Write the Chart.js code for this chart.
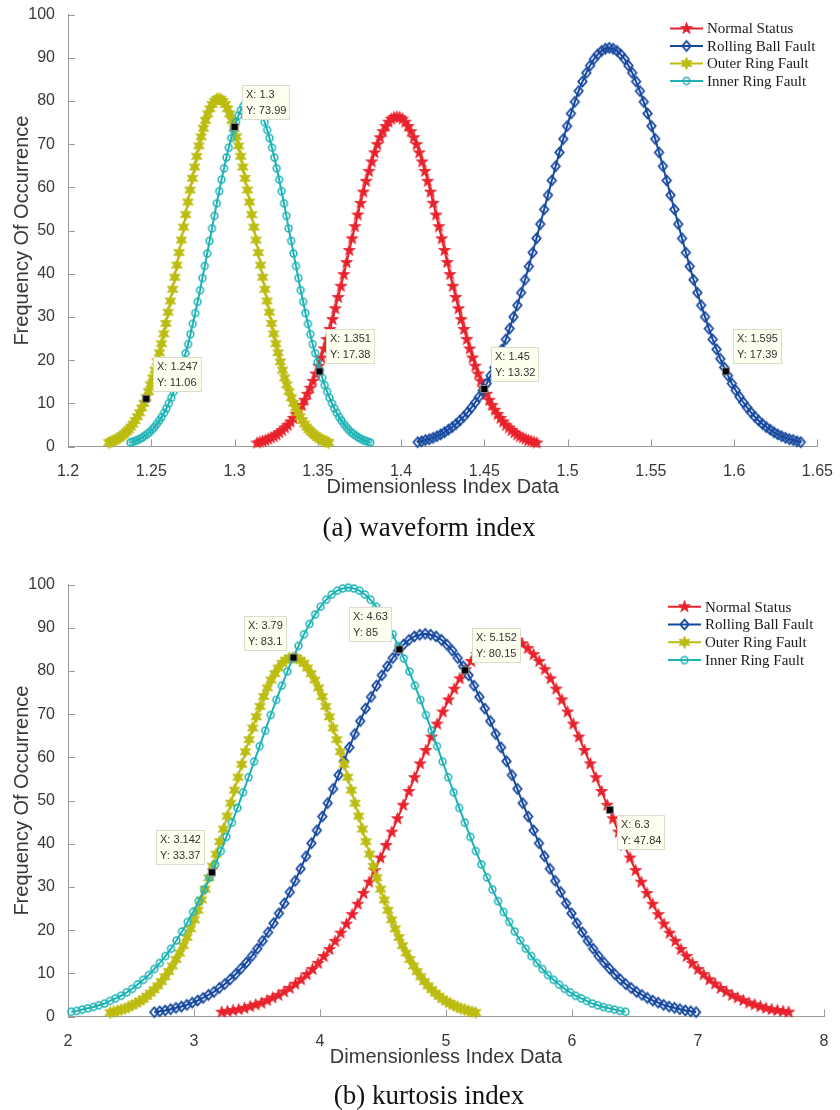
<!DOCTYPE html>
<html lang="en">
<head>
<meta charset="UTF-8">
<title>Dimensionless index distributions</title>
<script src="https://cdn.jsdelivr.net/npm/chart.js"></script>
<style>
    body, html { margin: 0; padding: 0; background: #fff; width: 840px; height: 1110px; overflow: hidden; }
    .box { position: absolute; left: 0; width: 840px; height: 520px; }
    .caption { position: absolute; left: 0; width: 858px; text-align: center; font-family: 'Liberation Serif', 'Times New Roman', serif; font-size: 27px; line-height: 32px; color: #111; }
</style>
</head>
<body>
<div class="box" style="top:0"><canvas id="chartA"></canvas></div>
<div class="caption" style="top:511px">(a) waveform index</div>
<div class="box" style="top:570px"><canvas id="chartB"></canvas></div>
<div class="caption" style="top:1079px">(b) kurtosis index</div>
<script>
const seriesNames = ['Normal Status', 'Rolling Ball Fault', 'Outer Ring Fault', 'Inner Ring Fault'];
const seriesColors = ['#e8222c', '#16489e', '#bcbc12', '#1db3b5'];
const yTicks = [0, 10, 20, 30, 40, 50, 60, 70, 80, 90, 100];

// (a) waveform index
const aTicksX = [1.2, 1.25, 1.3, 1.35, 1.4, 1.45, 1.5, 1.55, 1.6, 1.65];
const aNormalX = [1.3135,1.3152,1.3169,1.3185,1.3202,1.3219,1.3236,1.3253,1.3269,1.3286,1.3303,1.3320,1.3337,1.3353,1.3370,1.3387,1.3404,1.3421,1.3437,1.3454,1.3471,1.3488,1.3505,1.3521,1.3538,1.3555,1.3572,1.3589,1.3605,1.3622,1.3639,1.3656,1.3673,1.3689,1.3706,1.3723,1.3740,1.3757,1.3773,1.3790,1.3807,1.3824,1.3841,1.3857,1.3874,1.3891,1.3908,1.3925,1.3941,1.3958,1.3975,1.3992,1.4009,1.4025,1.4042,1.4059,1.4076,1.4093,1.4109,1.4126,1.4143,1.4160,1.4177,1.4193,1.4210,1.4227,1.4244,1.4261,1.4277,1.4294,1.4311,1.4328,1.4345,1.4361,1.4378,1.4395,1.4412,1.4429,1.4445,1.4462,1.4479,1.4496,1.4513,1.4529,1.4546,1.4563,1.4580,1.4597,1.4613,1.4630,1.4647,1.4664,1.4681,1.4697,1.4714,1.4731,1.4748,1.4765,1.4781,1.4798,1.4815];
const aNormalY = [0.8,1.0,1.2,1.4,1.7,2.0,2.3,2.7,3.2,3.7,4.3,4.9,5.7,6.5,7.4,8.4,9.5,10.7,12.1,13.5,15.1,16.8,18.6,20.5,22.6,24.8,27.1,29.4,31.9,34.5,37.1,39.8,42.6,45.4,48.1,50.9,53.6,56.3,58.9,61.4,63.7,65.9,68.0,69.9,71.5,72.9,74.1,75.1,75.8,76.2,76.3,76.2,75.8,75.1,74.1,72.9,71.5,69.9,68.0,65.9,63.7,61.4,58.9,56.3,53.6,50.9,48.1,45.4,42.6,39.8,37.1,34.5,31.9,29.4,27.1,24.8,22.6,20.5,18.6,16.8,15.1,13.5,12.1,10.7,9.5,8.4,7.4,6.5,5.7,4.9,4.3,3.7,3.2,2.7,2.3,2.0,1.7,1.4,1.2,1.0,0.8];
const aBallX = [1.41,1.4123,1.4146,1.4169,1.4192,1.4215,1.4238,1.4261,1.4284,1.4307,1.433,1.4353,1.4376,1.4399,1.4422,1.4445,1.4468,1.4491,1.4514,1.4537,1.456,1.4583,1.4606,1.4629,1.4652,1.4675,1.4698,1.4721,1.4744,1.4767,1.479,1.4813,1.4836,1.4859,1.4882,1.4905,1.4928,1.4951,1.4974,1.4997,1.502,1.5043,1.5066,1.5089,1.5112,1.5135,1.5158,1.5181,1.5204,1.5227,1.525,1.5273,1.5296,1.5319,1.5342,1.5365,1.5388,1.5411,1.5434,1.5457,1.548,1.5503,1.5526,1.5549,1.5572,1.5595,1.5618,1.5641,1.5664,1.5687,1.571,1.5733,1.5756,1.5779,1.5802,1.5825,1.5848,1.5871,1.5894,1.5917,1.594,1.5963,1.5986,1.6009,1.6032,1.6055,1.6078,1.6101,1.6124,1.6147,1.617,1.6193,1.6216,1.6239,1.6262,1.6285,1.6308,1.6331,1.6354,1.6377,1.64];
const aBallY = [1.0,1.2,1.5,1.7,2.0,2.4,2.8,3.3,3.9,4.5,5.2,6.0,6.9,7.9,9.0,10.2,11.5,13.0,14.6,16.4,18.3,20.3,22.5,24.8,27.3,30.0,32.7,35.6,38.6,41.7,44.9,48.2,51.5,54.9,58.2,61.6,64.9,68.1,71.2,74.2,77.1,79.8,82.3,84.5,86.5,88.2,89.7,90.8,91.6,92.1,92.3,92.1,91.6,90.8,89.7,88.2,86.5,84.5,82.3,79.8,77.1,74.2,71.2,68.1,64.9,61.6,58.2,54.9,51.5,48.2,44.9,41.7,38.6,35.6,32.7,30.0,27.3,24.8,22.5,20.3,18.3,16.4,14.6,13.0,11.5,10.2,9.0,7.9,6.9,6.0,5.2,4.5,3.9,3.3,2.8,2.4,2.0,1.7,1.5,1.2,1.0];
const aOuterX = [1.2245,1.2258,1.2271,1.2285,1.2298,1.2311,1.2324,1.2337,1.2351,1.2364,1.2377,1.2390,1.2403,1.2417,1.2430,1.2443,1.2456,1.2469,1.2483,1.2496,1.2509,1.2522,1.2535,1.2549,1.2562,1.2575,1.2588,1.2601,1.2615,1.2628,1.2641,1.2654,1.2667,1.2681,1.2694,1.2707,1.2720,1.2733,1.2747,1.2760,1.2773,1.2786,1.2799,1.2813,1.2826,1.2839,1.2852,1.2865,1.2879,1.2892,1.2905,1.2918,1.2931,1.2945,1.2958,1.2971,1.2984,1.2997,1.3011,1.3024,1.3037,1.3050,1.3063,1.3077,1.3090,1.3103,1.3116,1.3129,1.3143,1.3156,1.3169,1.3182,1.3195,1.3209,1.3222,1.3235,1.3248,1.3261,1.3275,1.3288,1.3301,1.3314,1.3327,1.3341,1.3354,1.3367,1.3380,1.3393,1.3407,1.3420,1.3433,1.3446,1.3459,1.3473,1.3486,1.3499,1.3512,1.3525,1.3539,1.3552,1.3565];
const aOuterY = [0.9,1.1,1.3,1.5,1.8,2.1,2.5,2.9,3.4,3.9,4.5,5.2,6.0,6.9,7.8,8.9,10.0,11.3,12.7,14.3,15.9,17.7,19.6,21.7,23.8,26.1,28.5,31.1,33.7,36.4,39.2,42.0,44.9,47.8,50.8,53.7,56.6,59.4,62.1,64.7,67.2,69.6,71.7,73.7,75.5,77.0,78.2,79.2,79.9,80.4,80.5,80.4,79.9,79.2,78.2,77.0,75.5,73.7,71.7,69.6,67.2,64.7,62.1,59.4,56.6,53.7,50.8,47.8,44.9,42.0,39.2,36.4,33.7,31.1,28.5,26.1,23.8,21.7,19.6,17.7,15.9,14.3,12.7,11.3,10.0,8.9,7.8,6.9,6.0,5.2,4.5,3.9,3.4,2.9,2.5,2.1,1.8,1.5,1.3,1.1,0.9];
const aInnerX = [1.2375,1.2389,1.2404,1.2418,1.2433,1.2447,1.2461,1.2476,1.2490,1.2505,1.2519,1.2533,1.2548,1.2562,1.2577,1.2591,1.2605,1.2620,1.2634,1.2649,1.2663,1.2677,1.2692,1.2706,1.2721,1.2735,1.2749,1.2764,1.2778,1.2793,1.2807,1.2821,1.2836,1.2850,1.2865,1.2879,1.2893,1.2908,1.2922,1.2937,1.2951,1.2965,1.2980,1.2994,1.3009,1.3023,1.3037,1.3052,1.3066,1.3081,1.3095,1.3109,1.3124,1.3138,1.3153,1.3167,1.3181,1.3196,1.3210,1.3225,1.3239,1.3253,1.3268,1.3282,1.3297,1.3311,1.3325,1.3340,1.3354,1.3369,1.3383,1.3397,1.3412,1.3426,1.3441,1.3455,1.3469,1.3484,1.3498,1.3513,1.3527,1.3541,1.3556,1.3570,1.3585,1.3599,1.3613,1.3628,1.3642,1.3657,1.3671,1.3685,1.3700,1.3714,1.3729,1.3743,1.3757,1.3772,1.3786,1.3801,1.3815];
const aInnerY = [0.9,1.1,1.3,1.5,1.8,2.1,2.5,2.9,3.3,3.9,4.5,5.2,6.0,6.8,7.8,8.8,10.0,11.3,12.7,14.2,15.9,17.6,19.5,21.6,23.7,26.0,28.4,30.9,33.5,36.2,39.0,41.8,44.7,47.6,50.5,53.4,56.3,59.1,61.8,64.4,66.9,69.2,71.4,73.3,75.1,76.6,77.8,78.8,79.5,80.0,80.1,80.0,79.5,78.8,77.8,76.6,75.1,73.3,71.4,69.2,66.9,64.4,61.8,59.1,56.3,53.4,50.5,47.6,44.7,41.8,39.0,36.2,33.5,30.9,28.4,26.0,23.7,21.6,19.5,17.6,15.9,14.2,12.7,11.3,10.0,8.8,7.8,6.8,6.0,5.2,4.5,3.9,3.3,2.9,2.5,2.1,1.8,1.5,1.3,1.1,0.9];
const aTipX = [1.3, 1.247, 1.351, 1.45, 1.595];
const aTipY = [73.99, 11.06, 17.38, 13.32, 17.39];
const aTipSide = ['ur', 'ur', 'ur', 'ur', 'ur'];

// (b) kurtosis index
const bTicksX = [2, 3, 4, 5, 6, 7, 8];
const bNormalX = [3.22,3.265,3.31,3.355,3.4,3.445,3.49,3.535,3.58,3.625,3.67,3.715,3.76,3.805,3.85,3.895,3.94,3.985,4.03,4.075,4.12,4.165,4.21,4.255,4.3,4.345,4.39,4.435,4.48,4.525,4.57,4.615,4.66,4.705,4.75,4.795,4.84,4.885,4.93,4.975,5.02,5.065,5.11,5.155,5.2,5.245,5.29,5.335,5.38,5.425,5.47,5.515,5.56,5.605,5.65,5.695,5.74,5.785,5.83,5.875,5.92,5.965,6.01,6.055,6.1,6.145,6.19,6.235,6.28,6.325,6.37,6.415,6.46,6.505,6.55,6.595,6.64,6.685,6.73,6.775,6.82,6.865,6.91,6.955,7.0,7.045,7.09,7.135,7.18,7.225,7.27,7.315,7.36,7.405,7.45,7.495,7.54,7.585,7.63,7.675,7.72];
const bNormalY = [1.0,1.2,1.4,1.6,1.9,2.3,2.7,3.1,3.7,4.3,4.9,5.7,6.5,7.5,8.5,9.7,10.9,12.3,13.9,15.5,17.4,19.3,21.4,23.6,26.0,28.5,31.1,33.8,36.7,39.6,42.7,45.8,48.9,52.1,55.3,58.5,61.6,64.7,67.7,70.5,73.3,75.8,78.2,80.3,82.2,83.8,85.2,86.3,87.1,87.5,87.7,87.5,87.1,86.3,85.2,83.8,82.2,80.3,78.2,75.8,73.3,70.5,67.7,64.7,61.6,58.5,55.3,52.1,48.9,45.8,42.7,39.6,36.7,33.8,31.1,28.5,26.0,23.6,21.4,19.3,17.4,15.5,13.9,12.3,10.9,9.7,8.5,7.5,6.5,5.7,4.9,4.3,3.7,3.1,2.7,2.3,1.9,1.6,1.4,1.2,1.0];
const bBallX = [2.685,2.728,2.771,2.814,2.857,2.9,2.943,2.986,3.029,3.072,3.115,3.158,3.201,3.244,3.287,3.33,3.373,3.416,3.459,3.502,3.545,3.588,3.631,3.674,3.717,3.76,3.803,3.846,3.889,3.932,3.975,4.018,4.061,4.104,4.147,4.19,4.233,4.276,4.319,4.362,4.405,4.448,4.491,4.534,4.577,4.62,4.663,4.706,4.749,4.792,4.835,4.878,4.921,4.964,5.007,5.05,5.093,5.136,5.179,5.222,5.265,5.308,5.351,5.394,5.437,5.48,5.523,5.566,5.609,5.652,5.695,5.738,5.781,5.824,5.867,5.91,5.953,5.996,6.039,6.082,6.125,6.168,6.211,6.254,6.297,6.34,6.383,6.426,6.469,6.512,6.555,6.598,6.641,6.684,6.727,6.77,6.813,6.856,6.899,6.942,6.985];
const bBallY = [1.0,1.2,1.4,1.7,2.0,2.3,2.7,3.2,3.7,4.3,5.0,5.7,6.6,7.5,8.6,9.8,11.1,12.5,14.0,15.7,17.5,19.5,21.6,23.9,26.2,28.8,31.4,34.2,37.1,40.1,43.1,46.3,49.4,52.7,55.9,59.1,62.3,65.4,68.4,71.3,74.0,76.6,79.0,81.1,83.0,84.7,86.1,87.2,88.0,88.4,88.6,88.4,88.0,87.2,86.1,84.7,83.0,81.1,79.0,76.6,74.0,71.3,68.4,65.4,62.3,59.1,55.9,52.7,49.4,46.3,43.1,40.1,37.1,34.2,31.4,28.8,26.2,23.9,21.6,19.5,17.5,15.7,14.0,12.5,11.1,9.8,8.6,7.5,6.6,5.7,5.0,4.3,3.7,3.2,2.7,2.3,2.0,1.7,1.4,1.2,1.0];
const bOuterX = [2.335,2.364,2.393,2.422,2.451,2.48,2.509,2.538,2.567,2.596,2.625,2.654,2.683,2.712,2.741,2.77,2.799,2.828,2.857,2.886,2.915,2.944,2.973,3.002,3.031,3.06,3.089,3.118,3.147,3.176,3.205,3.234,3.263,3.292,3.321,3.35,3.379,3.408,3.437,3.466,3.495,3.524,3.553,3.582,3.611,3.64,3.669,3.698,3.727,3.756,3.785,3.814,3.843,3.872,3.901,3.93,3.959,3.988,4.017,4.046,4.075,4.104,4.133,4.162,4.191,4.22,4.249,4.278,4.307,4.336,4.365,4.394,4.423,4.452,4.481,4.51,4.539,4.568,4.597,4.626,4.655,4.684,4.713,4.742,4.771,4.8,4.829,4.858,4.887,4.916,4.945,4.974,5.003,5.032,5.061,5.09,5.119,5.148,5.177,5.206,5.235];
const bOuterY = [0.9,1.1,1.3,1.6,1.8,2.2,2.6,3.0,3.5,4.0,4.7,5.4,6.2,7.1,8.1,9.2,10.4,11.7,13.2,14.7,16.4,18.3,20.3,22.4,24.6,27.0,29.5,32.1,34.8,37.6,40.5,43.4,46.4,49.4,52.4,55.4,58.4,61.3,64.1,66.8,69.4,71.8,74.1,76.1,77.9,79.4,80.7,81.8,82.5,83.0,83.1,83.0,82.5,81.8,80.7,79.4,77.9,76.1,74.1,71.8,69.4,66.8,64.1,61.3,58.4,55.4,52.4,49.4,46.4,43.4,40.5,37.6,34.8,32.1,29.5,27.0,24.6,22.4,20.3,18.3,16.4,14.7,13.2,11.7,10.4,9.2,8.1,7.1,6.2,5.4,4.7,4.0,3.5,3.0,2.6,2.2,1.8,1.6,1.3,1.1,0.9];
const bInnerX = [2.025,2.069,2.113,2.157,2.201,2.245,2.289,2.333,2.377,2.421,2.465,2.509,2.553,2.597,2.641,2.685,2.729,2.773,2.817,2.861,2.905,2.949,2.993,3.037,3.081,3.125,3.169,3.213,3.257,3.301,3.345,3.389,3.433,3.477,3.521,3.565,3.609,3.653,3.697,3.741,3.785,3.829,3.873,3.917,3.961,4.005,4.049,4.093,4.137,4.181,4.225,4.269,4.313,4.357,4.401,4.445,4.489,4.533,4.577,4.621,4.665,4.709,4.753,4.797,4.841,4.885,4.929,4.973,5.017,5.061,5.105,5.149,5.193,5.237,5.281,5.325,5.369,5.413,5.457,5.501,5.545,5.589,5.633,5.677,5.721,5.765,5.809,5.853,5.897,5.941,5.985,6.029,6.073,6.117,6.161,6.205,6.249,6.293,6.337,6.381,6.425];
const bInnerY = [1.1,1.3,1.6,1.9,2.2,2.6,3.0,3.6,4.2,4.8,5.6,6.4,7.4,8.5,9.6,11.0,12.4,14.0,15.7,17.6,19.7,21.9,24.2,26.7,29.4,32.2,35.2,38.3,41.6,44.9,48.3,51.9,55.4,59.0,62.6,66.2,69.8,73.3,76.6,79.9,82.9,85.8,88.5,90.9,93.1,94.9,96.5,97.7,98.6,99.1,99.3,99.1,98.6,97.7,96.5,94.9,93.1,90.9,88.5,85.8,82.9,79.9,76.6,73.3,69.8,66.2,62.6,59.0,55.4,51.9,48.3,44.9,41.6,38.3,35.2,32.2,29.4,26.7,24.2,21.9,19.7,17.6,15.7,14.0,12.4,11.0,9.6,8.5,7.4,6.4,5.6,4.8,4.2,3.6,3.0,2.6,2.2,1.9,1.6,1.3,1.1];
const bTipX = [3.79, 4.63, 5.152, 6.3, 3.142];
const bTipY = [83.1, 85, 80.15, 47.84, 33.37];
const bTipSide = ['ul', 'ul', 'ur', 'dr', 'ul'];

const sansFont = "'Liberation Sans', Arial, sans-serif";
const serifFont = "'Liberation Serif', 'Times New Roman', serif";
const axisColor = '#999999';
const textColor = '#383838';

// marker images (MATLAB-like: pentagram, diamond, hexagram, circle)
function makeMarker(kind, color) {
    const c = document.createElement('canvas');
    c.width = c.height = 15;
    const g = c.getContext('2d');
    g.translate(7.5, 7.5);
    g.strokeStyle = color;
    g.fillStyle = color;
    g.beginPath();
    if (kind === 'star5' || kind === 'star6') {
        const n = kind === 'star5' ? 5 : 6;
        const rIn = kind === 'star5' ? 2.5 : 3.1;
        for (let i = 0; i < n * 2; i++) {
            const r = i % 2 ? rIn : 6.2;
            const a = -Math.PI / 2 + i * Math.PI / n;
            g.lineTo(r * Math.cos(a), r * Math.sin(a));
        }
        g.closePath();
        g.fill();
        g.lineWidth = 0.8;
        g.stroke();
    } else if (kind === 'diamond') {
        g.moveTo(0, -4.8); g.lineTo(4.2, 0); g.lineTo(0, 4.8); g.lineTo(-4.2, 0);
        g.closePath();
        g.lineWidth = 1.8;
        g.stroke();
    } else {
        g.arc(0, 0, 3.4, 0, Math.PI * 2);
        g.lineWidth = 1.5;
        g.stroke();
    }
    return c;
}
const markers = [
    makeMarker('star5', seriesColors[0]),
    makeMarker('diamond', seriesColors[1]),
    makeMarker('star6', seriesColors[2]),
    makeMarker('circle', seriesColors[3])
];

function buildSets(xsList, ysList) {
    return xsList.map((xs, i) => ({
        label: seriesNames[i],
        data: xs.map((x, j) => ({ x: x, y: ysList[i][j] })),
        borderColor: seriesColors[i],
        backgroundColor: seriesColors[i],
        borderWidth: 2,
        pointStyle: markers[i],
        pointRadius: 4,
        tension: 0,
        clip: false,
        order: 3 - i   // later series on top, like MATLAB
    }));
}

// inward tick marks
const insideTicks = {
    id: 'insideTicks',
    beforeDatasetsDraw(chart) {
        const { ctx, chartArea: a, scales: { x, y } } = chart;
        ctx.save();
        ctx.strokeStyle = axisColor;
        ctx.lineWidth = 1;
        ctx.beginPath();
        x.ticks.forEach(t => {
            const px = Math.round(x.getPixelForValue(t.value)) + 0.5;
            ctx.moveTo(px, a.bottom);
            ctx.lineTo(px, a.bottom - 7);
        });
        y.ticks.forEach(t => {
            const py = Math.round(y.getPixelForValue(t.value)) + 0.5;
            ctx.moveTo(a.left, py);
            ctx.lineTo(a.left + 7, py);
        });
        ctx.stroke();
        ctx.restore();
    }
};

// legend with line + marker, serif text
const lineLegend = {
    id: 'lineLegend',
    afterDraw(chart, args, opts) {
        const ctx = chart.ctx;
        ctx.save();
        ctx.font = '15px ' + serifFont;
        ctx.textBaseline = 'middle';
        ctx.textAlign = 'left';
        chart.data.datasets.forEach((ds, i) => {
            const yy = opts.top + i * opts.gap;
            ctx.strokeStyle = ds.borderColor;
            ctx.lineWidth = 2;
            ctx.beginPath();
            ctx.moveTo(opts.left, yy);
            ctx.lineTo(opts.left + 33, yy);
            ctx.stroke();
            const m = ds.pointStyle;
            ctx.drawImage(m, opts.left + 16.5 - m.width / 2, yy - m.height / 2);
            ctx.fillStyle = '#1a1a1a';
            ctx.fillText(ds.label, opts.left + 37, yy + 1);
        });
        ctx.restore();
    }
};

// data tips
const dataTips = {
    id: 'dataTips',
    afterDraw(chart, args, opts) {
        const { ctx, scales: { x, y } } = chart;
        ctx.save();
        ctx.font = '11px ' + sansFont;
        opts.xs.forEach((vx, i) => {
            const vy = opts.ys[i];
            const px = x.getPixelForValue(vx);
            const py = y.getPixelForValue(vy);
            const l1 = 'X: ' + vx;
            const l2 = 'Y: ' + vy;
            const w = Math.round(Math.max(ctx.measureText(l1).width, ctx.measureText(l2).width) + 8);
            const h = 35;
            let bx, by;
            const side = opts.sides[i];
            if (side === 'ur') { bx = px + 7; by = py - 7 - h; }
            else if (side === 'ul') { bx = px - 7 - w; by = py - 7 - h; }
            else { bx = px + 7; by = py + 5; }
            bx = Math.round(bx); by = Math.round(by);
            ctx.fillStyle = '#fffff0';
            ctx.fillRect(bx, by, w, h);
            ctx.strokeStyle = '#dcdccc';
            ctx.lineWidth = 1;
            ctx.strokeRect(bx + 0.5, by + 0.5, w - 1, h - 1);
            ctx.fillStyle = '#333';
            ctx.textBaseline = 'middle';
            ctx.textAlign = 'left';
            ctx.fillText(l1, bx + 4, by + 10);
            ctx.fillText(l2, bx + 4, by + 26);
            ctx.fillStyle = '#000';
            ctx.fillRect(px - 3.5, py - 3.5, 7, 7);
            ctx.strokeStyle = '#888';
            ctx.strokeRect(px - 3.5, py - 3.5, 7, 7);
        });
        ctx.restore();
    }
};

function makeChart(id, sets, ticksX, xMin, xMax, tips, legendPos, rightPad) {
    return new Chart(document.getElementById(id), {
        type: 'line',
        data: { datasets: sets },
        options: {
            responsive: true,
            maintainAspectRatio: false,
            animation: false,
            events: [],
            layout: { padding: { top: 13, right: rightPad, bottom: 19.5, left: 0 } },
            scales: {
                x: {
                    type: 'linear',
                    min: xMin,
                    max: xMax,
                    grid: { display: false },
                    border: { color: axisColor, width: 1 },
                    afterBuildTicks: s => { s.ticks = ticksX.map(v => ({ value: v })); },
                    afterFit: s => { s.height = 54; },
                    ticks: {
                        autoSkip: false, maxRotation: 0, padding: 7, color: textColor,
                        font: { family: sansFont, size: 16 },
                        callback: v => String(v)
                    },
                    title: {
                        display: true, text: 'Dimensionless Index Data', color: textColor,
                        font: { family: sansFont, size: 20 }, padding: { top: 0, bottom: 1.5 }
                    }
                },
                y: {
                    min: 0,
                    max: 100,
                    grid: { display: false },
                    border: { color: axisColor, width: 1 },
                    afterBuildTicks: s => { s.ticks = yTicks.map(v => ({ value: v })); },
                    afterFit: s => { s.width = 68; },
                    ticks: {
                        autoSkip: false, padding: 5, color: textColor,
                        font: { family: sansFont, size: 16 },
                        callback: v => String(v)
                    },
                    title: {
                        display: true, text: 'Frequency Of Occurrence', color: textColor,
                        font: { family: sansFont, size: 20 }, padding: { top: 10, bottom: 0 }
                    }
                }
            },
            plugins: {
                legend: { display: false },
                tooltip: { enabled: false },
                lineLegend: legendPos,
                dataTips: tips
            }
        },
        plugins: [insideTicks, lineLegend, dataTips]
    });
}

makeChart('chartA',
    buildSets([aNormalX, aBallX, aOuterX, aInnerX], [aNormalY, aBallY, aOuterY, aInnerY]),
    aTicksX, 1.2, 1.65,
    { xs: aTipX, ys: aTipY, sides: aTipSide },
    { left: 670, top: 28.5, gap: 17.5 }, 17);

makeChart('chartB',
    buildSets([bNormalX, bBallX, bOuterX, bInnerX], [bNormalY, bBallY, bOuterY, bInnerY]),
    bTicksX, 2, 8,
    { xs: bTipX, ys: bTipY, sides: bTipSide },
    { left: 668, top: 36.7, gap: 17.8 }, 16);
</script>
</body>
</html>
